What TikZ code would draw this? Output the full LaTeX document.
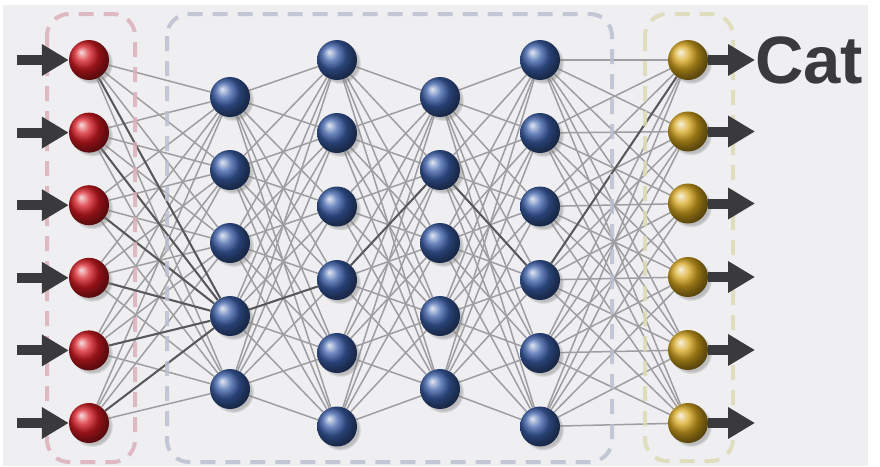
\documentclass[tikz,border=0pt]{standalone}
\usepackage{fontspec}
\newfontfamily\catfont{Liberation Sans}
\usetikzlibrary{arrows.meta,shadows,fadings}
\pgfdeclarelayer{bgrect}
\pgfdeclarelayer{edges}
\pgfsetlayers{bgrect,edges,main}
\definecolor{bgc}{HTML}{EFEFF1}
\definecolor{redball}{HTML}{D41A22}
\definecolor{blueball}{HTML}{3A5EA8}
\definecolor{goldball}{HTML}{D6A61E}
\definecolor{connc}{HTML}{9E9EA0}
\definecolor{darkconn}{HTML}{58585A}
\definecolor{arrowc}{HTML}{3A3A3C}
\definecolor{redboxc}{HTML}{DCB0B9}
\definecolor{blueboxc}{HTML}{BBBFD1}
\definecolor{goldboxc}{HTML}{DEDAB6}
\begin{document}
\begin{tikzpicture}[x=1pt,y=-1pt,
  neuron/.style={circle,minimum size=40pt,inner sep=0pt,
    circular drop shadow={shadow xshift=3pt,shadow yshift=-3pt,shadow scale=1.05,opacity=0.45}},
  inneuron/.style={neuron,shading=ball,ball color=redball},
  hidneuron/.style={neuron,shading=ball,ball color=blueball},
  outneuron/.style={neuron,shading=ball,ball color=goldball},
  conn/.style={draw=connc,line width=1.5pt},
  hotconn/.style={draw=darkconn,line width=2pt},
  layerbox/.style={line width=4pt,rounded corners=22pt,dash pattern=on 15pt off 10pt},
  ioarrow/.style={draw=arrowc,line width=10pt,-{Triangle[length=27pt,width=30pt]}}
]
\useasboundingbox (0,0) rectangle (880,466);
\begin{pgfonlayer}{bgrect}
  \fill[white] (0,0) rectangle (880,466);
  \fill[bgc] (3,5) rectangle (868,466);
\end{pgfonlayer}

% neurons
\foreach \y [count=\k] in {60,132.6,205.2,277.8,350.4,423}
  \node[inneuron] (i\k) at (89,\y) {};
\foreach \y [count=\k] in {97,170,243,316,389}
  \node[hidneuron] (a\k) at (230,\y) {};
\foreach \y [count=\k] in {60,133,206.5,280,353,426.5}
  \node[hidneuron] (b\k) at (337,\y) {};
\foreach \y [count=\k] in {97,170,243,316,389}
  \node[hidneuron] (c\k) at (440,\y) {};
\foreach \y [count=\k] in {60,133,206.5,280,353,426.5}
  \node[hidneuron] (d\k) at (540,\y) {};
\foreach \y [count=\k] in {60,131.5,203.5,277,350,423}
  \node[outneuron] (o\k) at (688,\y) {};

% connections
\begin{pgfonlayer}{edges}
  \foreach \p in {1,...,6} \foreach \q in {1,...,5} \draw[conn] (i\p) -- (a\q);
  \foreach \p in {1,...,5} \foreach \q in {1,...,6} \draw[conn] (a\p) -- (b\q);
  \foreach \p in {1,...,6} \foreach \q in {1,...,5} \draw[conn] (b\p) -- (c\q);
  \foreach \p in {1,...,5} \foreach \q in {1,...,6} \draw[conn] (c\p) -- (d\q);
  \foreach \p in {1,...,6} \foreach \q in {1,...,6} \draw[conn] (d\p) -- (o\q);
  \foreach \p in {1,...,6} \draw[hotconn] (i\p) -- (a4);
  \draw[hotconn] (a4) -- (b4);
  \draw[hotconn] (b4) -- (c2);
  \draw[hotconn] (c2) -- (d4);
  \draw[hotconn] (d4) -- (o1);
  % layer boxes
  \draw[layerbox,draw=redboxc,opacity=0.85] (47,14) rectangle (135,462);
  \draw[layerbox,draw=blueboxc,opacity=0.85] (167,14) rectangle (612,462);
  \draw[layerbox,draw=goldboxc,opacity=0.85] (645,14) rectangle (733,461);
\end{pgfonlayer}

% input and output arrows
\foreach \k in {1,...,6} {
  \coordinate (s\k) at (17,0 |- i\k);
  \draw[ioarrow] (s\k) -- (i\k);
  \coordinate (t\k) at (755,0 |- o\k);
  \draw[ioarrow] (o\k) -- (t\k);
}

\node[anchor=base west,inner sep=0pt,text=arrowc,
  font=\catfont\bfseries\fontsize{67}{67}\selectfont] (cat) at (755,83) {Cat};
\end{tikzpicture}
\end{document}
